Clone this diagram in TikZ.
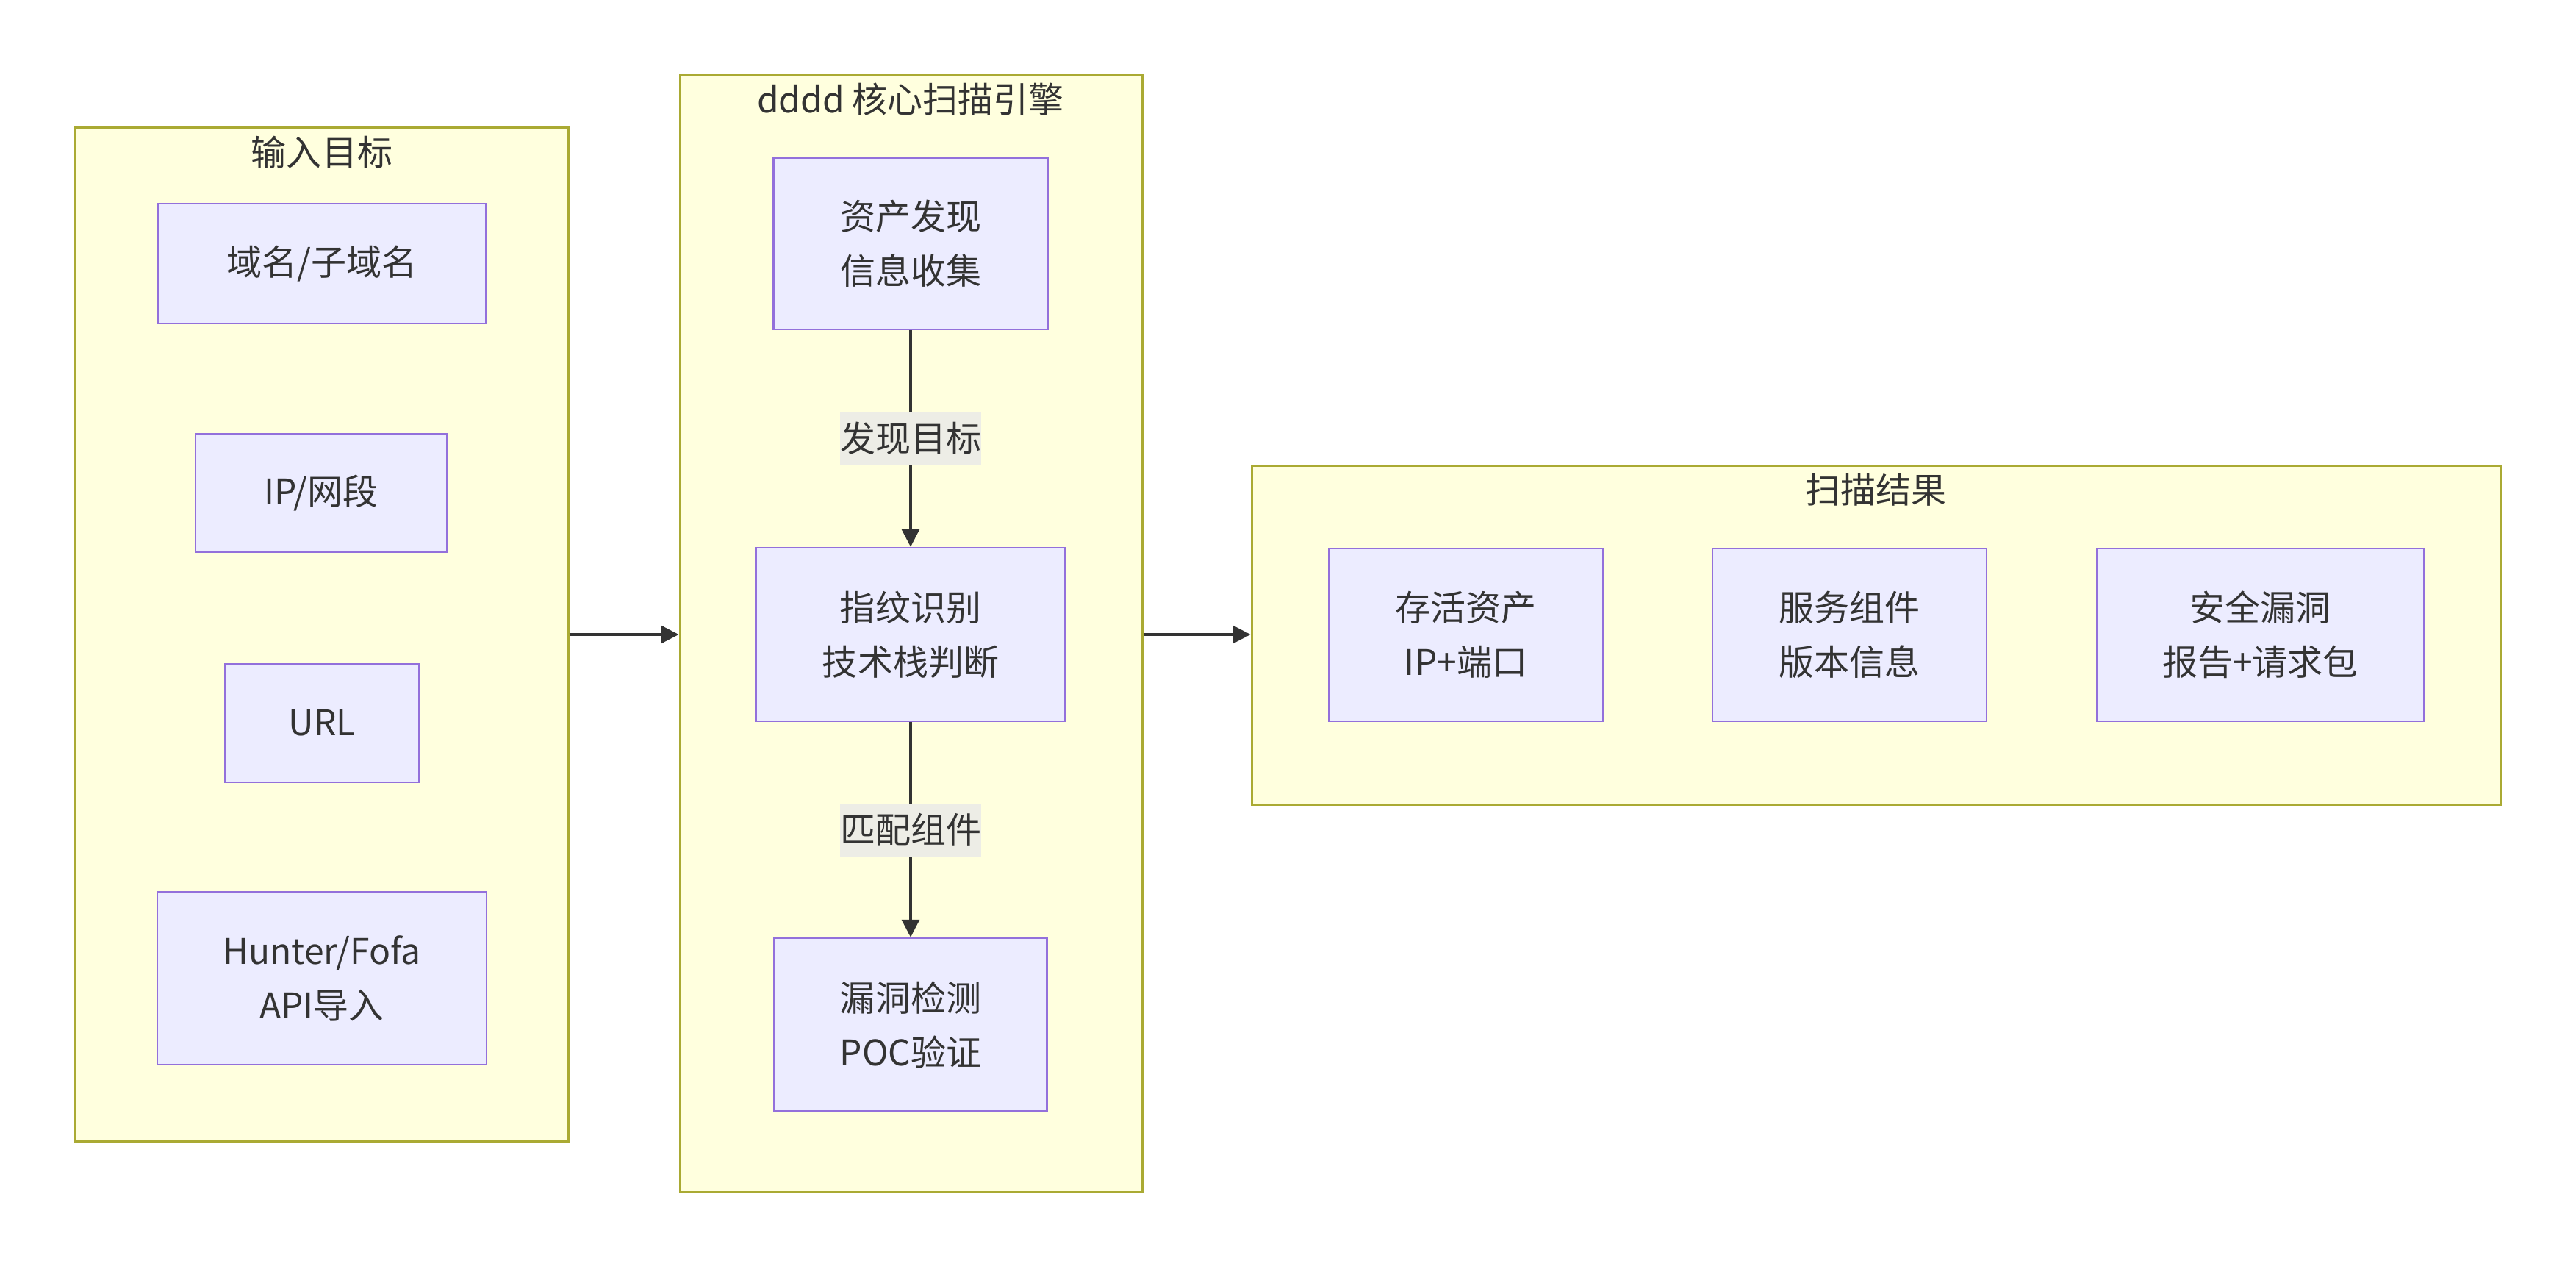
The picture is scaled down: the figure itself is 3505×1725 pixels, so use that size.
\documentclass[tikz,border=0pt]{standalone}
\usepackage{fontspec}
\setmainfont{Noto Sans CJK SC}
\usepackage{xcolor}
\usepackage{tikz}
\usetikzlibrary{arrows.meta}

\definecolor{clfill}{HTML}{FFFFDE}
\definecolor{clline}{HTML}{AAAA33}
\definecolor{ndfill}{HTML}{ECECFF}
\definecolor{ndline}{HTML}{9370DB}
\definecolor{ink}{HTML}{333333}
\definecolor{lblbg}{RGB}{237,237,230}

\begin{document}
\begin{tikzpicture}[x=0.1mm,y=-0.1mm,
		font=\fontsize{13.66pt}{21pt}\selectfont,text=ink,
		cluster/.style={draw=clline,fill=clfill,line width=0.3mm,inner sep=0pt},
		box/.style={draw=ndline,fill=ndfill,line width=0.25mm,align=center,inner sep=0pt},
		elabel/.style={fill=lblbg,inner sep=0pt,minimum width=19.2mm,minimum height=7.2mm},
		flow/.style={draw=ink,line width=0.33mm,-{Triangle[length=2.4mm,width=2.4mm]}}]
		\fill [white] (0,0) rectangle (3505,1725);
		\useasboundingbox (0,0) rectangle (3505,1725);
		% groups
		\node [cluster,minimum width=67.1mm,minimum height=137.9mm] (inp) at (437.5,862.5) {};
		\node [cluster,minimum width=62.9mm,minimum height=151.9mm] (core) at (1239.5,861.5) {};
		\node [cluster,minimum width=169.9mm,minimum height=46.1mm] (res) at (2552.5,863.5) {};
		\node (inpT) at (438,207) {输入目标};
		\node (coreT) at (1239,135) {dddd 核心扫描引擎};
		\node (resT) at (2552,666) {扫描结果};
		% inputs
		\node [box,minimum width=44.7mm,minimum height=16.3mm] (dom) at (438,358.5) {域名/子域名};
		\node [box,minimum width=34.2mm,minimum height=16.1mm] (ip) at (437,670.5) {IP/网段};
		\node [box,minimum width=26.4mm,minimum height=16.1mm] (url) at (438,983.5) {URL};
		\node [box,minimum width=44.8mm,minimum height=23.5mm] (api) at (438,1330.5) {Hunter/Fofa\\API导入};
		% engine
		\node [box,minimum width=37.3mm,minimum height=23.3mm] (asset) at (1239,331.5) {资产发现\\信息收集};
		\node [box,minimum width=42.1mm,minimum height=23.6mm] (finger) at (1239,863) {指纹识别\\技术栈判断};
		\node [box,minimum width=37.1mm,minimum height=23.5mm] (vuln) at (1239,1393.5) {漏洞检测\\POC验证};
		% results
		\node [box,minimum width=37.3mm,minimum height=23.5mm] (alive) at (1994.5,863.5) {存活资产\\IP+端口};
		\node [box,minimum width=37.3mm,minimum height=23.5mm] (svc) at (2516.5,863.5) {服务组件\\版本信息};
		\node [box,minimum width=44.5mm,minimum height=23.5mm] (bug) at (3075.5,863.5) {安全漏洞\\报告+请求包};
		% flow
		\draw [flow] (asset) -- node [elabel] {发现目标} (finger);
		\draw [flow] (finger) -- node [elabel] {匹配组件} (vuln);
		\draw [flow] (inp.east |- finger) -- (core.west |- finger);
		\draw [flow] (core.east |- finger) -- (res.west |- finger);
	\end{tikzpicture}
\end{document}
